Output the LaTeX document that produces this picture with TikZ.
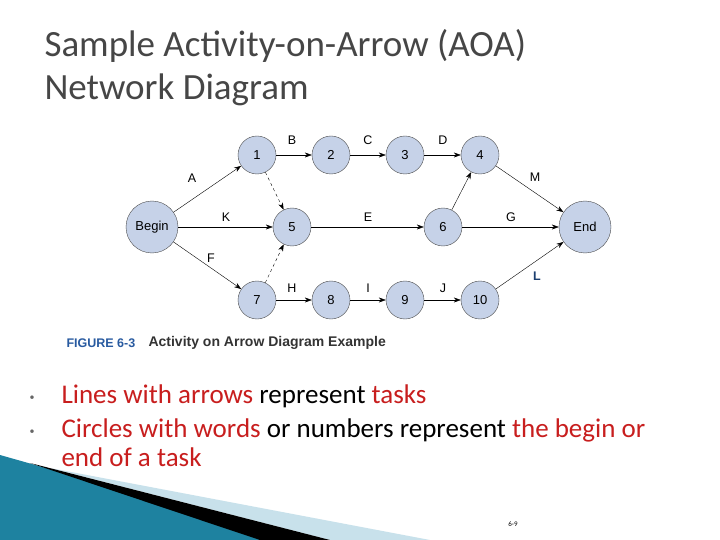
\documentclass[tikz,border=0pt]{standalone}
\usepackage{fontspec}
\setmainfont{Carlito}
\newfontfamily\arialf{Liberation Sans}
\usetikzlibrary{arrows.meta}
\definecolor{nodefill}{RGB}{198,210,232}
\definecolor{redt}{RGB}{200,30,30}
\definecolor{titleg}{RGB}{70,70,70}
\definecolor{figblue}{RGB}{40,90,160}
\definecolor{teal}{RGB}{30,130,160}
\definecolor{lteal}{RGB}{200,225,235}
\begin{document}
\begin{tikzpicture}[x=1pt,y=-1pt,
 ev/.style={circle,draw=black!70,fill=nodefill,minimum size=38pt,inner sep=0pt,font=\arialf\fontsize{13}{14}\selectfont},
 big/.style={ev,minimum size=52pt},
 act/.style={-{Stealth[length=7pt,width=5pt]},thin},
 dum/.style={act,dashed},
 lab/.style={font=\arialf\fontsize{12.5}{14}\selectfont}]
\useasboundingbox (0,0) rectangle (720,540);
\fill[white] (0,0) rectangle (720,540);
% decoration
\fill[teal] (0,455) -- (300,540) -- (0,540) -- cycle;
\fill[lteal] (50,468) -- (430,540) -- (330,540) -- cycle;
\fill[black] (30,463) -- (330,540) -- (260,540) -- cycle;
% title
\node[anchor=west,text=titleg,font=\fontsize{37}{39}\selectfont] (t1) at (41,46) {Sample Activity-on-Arrow (AOA)};
\node[anchor=west,text=titleg,font=\fontsize{37}{39}\selectfont] (t2) at (41,90) {Network Diagram};
% nodes
\node[ev] (n1) at (257,155) {1};
\node[ev] (n2) at (331,155) {2};
\node[ev] (n3) at (405,155) {3};
\node[ev] (n4) at (480,155) {4};
\node[big] (b) at (152,227) {Begin};
\node[ev] (n5) at (292,227) {5};
\node[ev] (n6) at (443,227) {6};
\node[big] (e) at (585,227) {End};
\node[ev] (n7) at (257,300) {7};
\node[ev] (n8) at (331,300) {8};
\node[ev] (n9) at (405,300) {9};
\node[ev] (n10) at (480,300) {10};
% edges
\draw[act] (b) -- (n1);
\draw[act] (n1) -- (n2);
\draw[act] (n2) -- (n3);
\draw[act] (n3) -- (n4);
\draw[act] (b) -- (n5);
\draw[act] (b) -- (n7);
\draw[act] (n5) -- (n6);
\draw[act] (n6) -- (n4);
\draw[act] (n6) -- (e);
\draw[act] (n4) -- (e);
\draw[act] (n10) -- (e);
\draw[act] (n7) -- (n8);
\draw[act] (n8) -- (n9);
\draw[act] (n9) -- (n10);
\draw[dum] (n1) -- (n5);
\draw[dum] (n7) -- (n5);
% labels
\node[lab] (lB) at (292,140) {B};
\node[lab] (lC) at (368,140) {C};
\node[lab] (lD) at (443,140) {D};
\node[lab] (lA) at (192,178) {A};
\node[lab] (lK) at (226,217) {K};
\node[lab] (lE) at (368,217) {E};
\node[lab] (lG) at (511,217) {G};
\node[lab] (lM) at (535,177) {M};
\node[lab] (lF) at (211,258) {F};
\node[lab] (lH) at (292,288) {H};
\node[lab] (lI) at (368,288) {I};
\node[lab] (lJ) at (443,288) {J};
\node[lab,text=figblue!70!black] (lL) at (537,276) {\textbf{L}};
% caption
\node[anchor=west,font=\arialf\bfseries\fontsize{12.5}{13}\selectfont,text=figblue] (fg) at (63,343) {FIGURE 6-3};
\node[anchor=west,font=\arialf\bfseries\fontsize{14}{15}\selectfont,text=black!80] (cap) at (145,343) {Activity on Arrow Diagram Example};
% bullets
\node[anchor=west,font=\fontsize{10}{12}\selectfont,text=black!60] (d1) at (26,398) {\textbullet};
\node[anchor=west,font=\fontsize{27}{29}\selectfont,text=redt] (bl1) at (58,396) {Lines with arrows \textcolor{black}{represent} tasks};
\node[anchor=west,font=\fontsize{10}{12}\selectfont,text=black!60] (d2) at (26,432) {\textbullet};
\node[anchor=north west,align=left,font=\fontsize{27}{29}\selectfont,text=redt] (bl2) at (58,415) {Circles with words \textcolor{black}{or numbers represent} the begin or\\end of a task};
\node[font=\fontsize{7}{8}\selectfont] (pg) at (513,524) {6-9};
\end{tikzpicture}
\end{document}
